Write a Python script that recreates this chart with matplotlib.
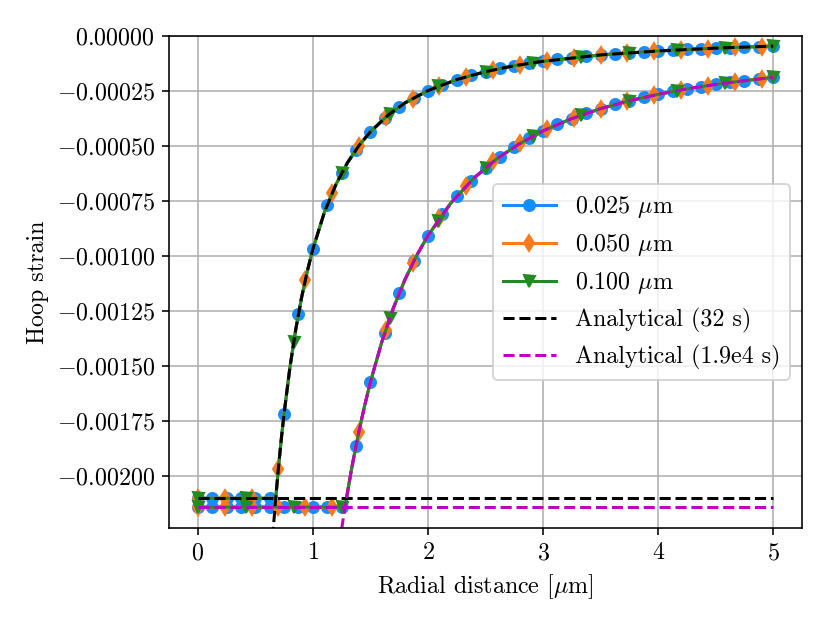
import numpy as np
import matplotlib
matplotlib.use('Agg')
import matplotlib.pyplot as plt
from matplotlib.lines import Line2D
from matplotlib.ticker import MultipleLocator

plt.rcParams['font.family'] = 'serif'
plt.rcParams['font.serif'] = ['cmr10']
plt.rcParams['mathtext.fontset'] = 'cm'
plt.rcParams['axes.formatter.use_mathtext'] = True
plt.rcParams['font.size'] = 12


# %% data (strain values in microstrain)

# marker positions of each mesh [um]
r_025 = np.linspace(0, 5, 41)
r_050 = [0.0, 0.233, 0.467, 0.7, 0.933, 1.167, 1.4, 1.633, 1.867, 2.1, 2.333,
         2.567, 2.8, 3.033, 3.267, 3.5, 3.733, 3.967, 4.2, 4.433, 4.667, 4.9]
r_100 = [0.0, 0.417, 0.833, 1.25, 1.667, 2.083, 2.5, 2.917, 3.333, 3.75, 4.167, 4.583, 5.0]

eps_025_32s = [-2100, -2100, -2100, -2100, -2100, -2100,
               -1715, -1262, -968, -767, -622, -516, -435, -372, -321, -281,
               -248, -221, -198, -178, -162, -147, -135, -124, -115, -106,
               -99, -92, -86, -81, -76, -72, -68, -64, -61, -58, -55, -53, -51, -48, -46]
eps_025_19e4s = [-2140, -2140, -2140, -2140, -2140, -2140, -2140, -2140, -2140, -2140, -2140,
                 -1861, -1572, -1347, -1168, -1024, -907, -809, -727, -658, -599,
                 -548, -504, -465, -431, -401, -375, -351, -330, -311, -294,
                 -279, -265, -252, -240, -230, -220, -211, -203, -195, -188]

eps_050_32s = [-2100, -2100, -2100, -1967, -1110, -713, -498, -368, -284, -226, -184,
               -154, -130, -112, -98, -86, -77, -69, -62, -57, -52, -48]
eps_050_19e4s = [-2140, -2140, -2140, -2140, -2140, -2140, -1797, -1334, -1033, -827, -680,
                 -570, -488, -423, -372, -330, -297, -268, -245, -225, -208, -194]

eps_100_32s = [-2100, -2100, -1390, -622, -354, -229, -162, -121, -94, -76, -63, -54, -46]
eps_100_19e4s = [-2140, -2140, -2140, -2140, -1283, -839, -599, -453, -359, -294, -248, -214, -188]

# analytical solutions: flat core value + decaying branch
flat_32s = -2100
flat_19e4s = -2140
kink_32s = 0.677
kink_19e4s = 1.28

r_an_32s = np.array([0.65, 0.66, 0.68, 0.70, 0.725, 0.75, 0.8, 0.85, 0.9, 0.95, 1.0, 1.1, 1.2,
                     1.3, 1.4, 1.5, 1.65, 1.8, 2.0, 2.25, 2.5, 2.75, 3.0, 3.5, 4.0, 4.5, 5.0])
eps_an_32s = np.array([-2280, -2212, -2084, -1967, -1834, -1715, -1508, -1337, -1193, -1072,
                       -968, -801, -675, -576, -498, -435, -361, -304, -248, -198, -162,
                       -135, -115, -86, -68, -55, -46])

r_an_19e4s = np.array([1.25, 1.26, 1.28, 1.3, 1.325, 1.35, 1.4, 1.45, 1.5, 1.6, 1.7, 1.8, 1.9,
                       2.0, 2.2, 2.4, 2.6, 2.8, 3.0, 3.25, 3.5, 3.75, 4.0, 4.25, 4.5, 4.75, 5.0])
eps_an_19e4s = np.array([-2241, -2206, -2140, -2076, -2000, -1929, -1797, -1679, -1572, -1388,
                         -1235, -1107, -999, -907, -758, -645, -557, -488, -431, -375, -330,
                         -294, -265, -240, -220, -203, -188])

meshes = [
    ('0.025 $\\mu$m', '#1a8cff', 'o', r_025, eps_025_32s, eps_025_19e4s),
    ('0.050 $\\mu$m', '#f97a1f', 'd', r_050, eps_050_32s, eps_050_19e4s),
    ('0.100 $\\mu$m', 'forestgreen', 'v', r_100, eps_100_32s, eps_100_19e4s),
]

MICRO = 1e-6
MS = 5.5


def numerical_line(r_an, eps_an, flat, kink):
    # numerical profile: flat core up to the kink, then on the analytical branch
    keep = r_an > kink
    r = np.concatenate([[0.0, kink], r_an[keep]])
    eps = np.concatenate([[flat, flat], eps_an[keep]])
    return r, eps * MICRO


line_32s = numerical_line(r_an_32s, eps_an_32s, flat_32s, kink_32s)
line_19e4s = numerical_line(r_an_19e4s, eps_an_19e4s, flat_19e4s, kink_19e4s)


# %% plot

fig = plt.figure(figsize=(830 / 144, 623 / 144))
ax = fig.add_axes([169 / 830, 1 - 528 / 623, 633 / 830, 492 / 623])

handles = []
for label, color, marker, r, eps_a, eps_b in meshes:
    for r_line, eps_line in (line_32s, line_19e4s):
        ax.plot(r_line, eps_line, color=color, lw=1.5)
    for eps in (eps_a, eps_b):
        ax.plot(r, np.array(eps) * MICRO, color=color, marker=marker, markersize=MS, linestyle='None')
    handles.append(Line2D([0], [0], color=color, marker=marker, markersize=MS, label=label))

r_ends = [r_025[0], r_025[-1]]
an1, = ax.plot(r_an_32s, eps_an_32s * MICRO, 'k--', lw=1.5, label='Analytical (32 s)')
ax.plot(r_ends, [flat_32s * MICRO] * 2, 'k--', lw=1.5)
an2, = ax.plot(r_an_19e4s, eps_an_19e4s * MICRO, 'm--', lw=1.5, label='Analytical (1.9e4 s)')
ax.plot(r_ends, [flat_19e4s * MICRO] * 2, 'm--', lw=1.5)
handles += [an1, an2]

ax.set_xlim(-0.25, 5.25)
ax.set_ylim(-0.002235, 0)
ax.yaxis.set_major_locator(MultipleLocator(0.00025))
ax.grid(True)
ax.set_xlabel('Radial distance [$\\mu$m]')
ax.set_ylabel('Hoop strain')
ax.legend(handles=handles, loc='center right', handlelength=2.2)

fig.savefig('out.png', dpi=144)
